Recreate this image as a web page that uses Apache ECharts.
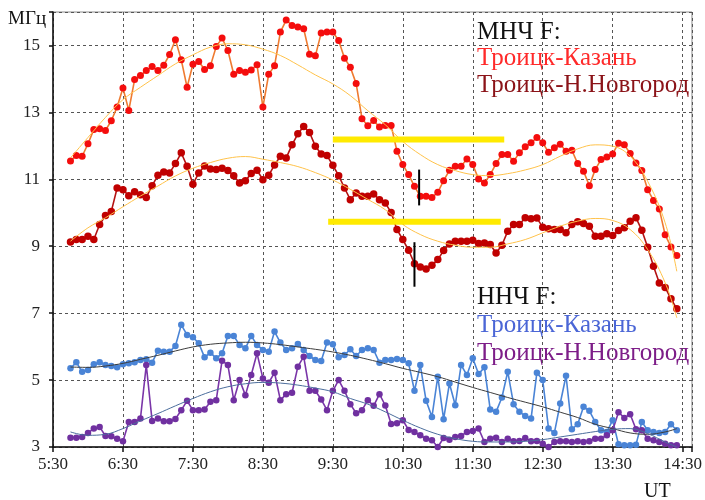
<!DOCTYPE html>
<html><head><meta charset="utf-8">
<script src="https://cdn.jsdelivr.net/npm/echarts@6/dist/echarts.min.js"></script>
<style>html,body{margin:0;padding:0;background:#fff}#c{width:705px;height:500px}</style>
</head><body><div id="c"></div>
<script>
// ---- tick labels ----
const xTickLabels = ['5:30','6:30','7:30','8:30','9:30','10:30','11:30','12:30','13:30','14:30'];
const yTickValues = [3,5,7,9,11,13,15];

// ---- sampled series (every 5 min starting 5:45) ----
const sampleStart = '5:45';
const sampleStepMin = 5;
const mnchKazan = [11.55,11.71,11.69,12.06,12.49,12.51,12.46,12.75,13.16,13.73,
  13.06,13.98,14.10,14.25,14.37,14.25,14.41,14.73,15.17,14.57,
  13.75,14.44,14.52,14.28,14.39,14.97,15.22,14.85,14.14,14.25,
  14.20,14.27,14.42,13.16,14.14,14.39,15.40,15.76,15.60,15.55,
  15.50,14.74,14.69,15.37,15.40,15.40,15.15,14.62,14.35,13.86,
  12.81,12.60,12.76,12.56,12.61,12.61,11.84,11.44,11.14,10.79,
  10.49,10.49,10.46,10.61,10.96,11.27,11.39,11.39,11.61,11.44,
  11.01,10.89,11.14,11.47,11.74,11.74,11.54,11.79,11.97,12.09,
  12.25,12.09,11.81,11.94,12.05,11.84,11.87,11.47,11.24,10.81,
  11.29,11.59,11.67,11.76,12.08,12.03,11.77,11.49,11.26,10.69,
  10.37,10.11,9.34,8.98,8.72];
const mnchNovgorod = [9.13,9.20,9.20,9.30,9.20,9.65,9.92,10.04,10.74,10.69,
  10.51,10.63,10.54,10.46,10.81,11.12,11.22,11.19,11.47,11.79,
  11.39,10.85,11.19,11.40,11.31,11.29,11.33,11.26,11.11,10.89,
  10.96,11.17,11.27,10.99,11.12,11.43,11.69,11.64,12.03,12.36,
  12.58,12.40,11.99,11.76,11.71,11.42,11.11,10.74,10.39,10.59,
  10.49,10.49,10.56,10.39,10.29,10.01,9.50,9.20,8.88,8.48,
  8.38,8.32,8.43,8.60,8.87,9.07,9.15,9.15,9.15,9.18,
  9.08,9.10,9.05,8.80,9.03,9.45,9.65,9.65,9.85,9.82,
  9.84,9.57,9.52,9.50,9.50,9.40,9.65,9.73,9.68,9.60,
  9.30,9.30,9.37,9.32,9.47,9.55,9.75,9.85,9.48,8.97,
  8.40,7.90,7.77,7.43,7.13];
const nnchKazan = [5.35,5.53,5.25,5.30,5.47,5.53,5.45,5.42,5.38,5.47,
  5.50,5.53,5.60,5.62,5.52,5.88,5.85,5.85,6.02,6.65,
  6.35,6.28,6.10,5.68,5.82,5.65,5.80,6.32,6.32,6.05,
  5.95,6.32,6.05,5.90,5.85,6.45,6.12,5.90,5.95,6.08,
  5.90,5.72,5.60,5.57,6.12,6.07,5.68,5.75,5.92,5.72,
  5.90,5.95,5.90,5.52,5.60,5.60,5.63,5.60,5.50,4.68,
  5.45,4.38,3.90,5.10,3.83,4.90,4.25,5.45,5.15,5.65,
  5.18,5.38,4.12,4.05,4.48,5.25,4.28,4.05,3.93,3.85,
  5.22,5.00,3.55,3.42,4.30,5.13,3.53,3.68,4.20,4.08,
  3.75,3.50,3.45,3.80,3.08,3.05,3.05,3.07,3.75,3.50,
  3.45,3.42,3.45,3.68,3.50];
const nnchNovgorod = [3.28,3.28,3.30,3.42,3.55,3.60,3.33,3.32,3.25,3.17,
  3.75,3.75,3.85,5.45,3.78,3.85,3.77,3.77,3.84,4.10,
  4.38,4.10,4.10,4.12,4.35,4.40,5.58,5.45,4.40,5.00,
  4.55,5.15,5.80,5.05,4.92,5.22,4.40,4.58,4.62,5.40,
  5.70,4.68,4.68,4.42,4.10,4.68,5.00,4.68,4.28,4.01,
  4.10,4.40,4.23,4.58,4.24,3.69,3.71,3.80,3.51,3.45,
  3.35,3.25,3.20,3.00,3.27,3.22,3.30,3.33,3.45,3.48,
  3.55,3.15,3.25,3.28,3.15,3.25,3.17,3.18,3.27,3.17,
  3.18,3.10,3.00,3.15,3.17,3.17,3.15,3.17,3.15,3.17,
  3.25,3.25,3.35,3.50,4.04,3.87,3.98,3.53,3.50,3.25,
  3.20,3.15,3.10,3.05,3.05];

// ---- smooth trend curves ----
const trendTimes = ['5:45','6:00','6:15','6:30','6:45','7:00','7:15','7:30','7:45','8:00',
  '8:15','8:30','8:45','9:00','9:15','9:30','9:45','10:00','10:15','10:30',
  '10:45','11:00','11:15','11:30','11:45','12:00','12:15','12:30','12:45','13:00',
  '13:15','13:30','13:45','14:00','14:15','14:25'];
const trendMnchKazan = [11.64,12.25,12.85,13.38,13.75,14.10,14.45,14.72,14.95,15.05,
  15.02,14.89,14.70,14.42,14.12,13.85,13.50,13.05,12.63,12.13,
  11.74,11.44,11.26,11.14,11.11,11.17,11.28,11.44,11.69,11.91,
  12.03,11.99,11.69,10.94,9.70,8.25];
const trendMnchNovgorod = [9.15,9.55,9.85,10.18,10.50,10.80,11.10,11.33,11.50,11.63,
  11.68,11.60,11.50,11.38,11.20,10.98,10.70,10.40,10.09,9.65,
  9.35,9.15,9.03,8.97,8.97,9.07,9.20,9.40,9.60,9.75,
  9.83,9.77,9.50,8.90,7.91,6.86];
const trendNnchKazan = [5.39,5.38,5.42,5.50,5.62,5.74,5.87,5.99,6.07,6.11,
  6.13,6.11,6.06,5.99,5.92,5.84,5.74,5.62,5.49,5.35,
  5.23,5.10,4.94,4.78,4.63,4.48,4.34,4.20,4.04,3.88,
  3.68,3.55,3.42,3.38,3.45,3.55];
const trendNnchNovgorod = [3.45,3.35,3.38,3.55,3.78,4.00,4.23,4.45,4.65,4.80,
  4.89,4.93,4.91,4.85,4.76,4.65,4.45,4.28,4.05,3.80,
  3.57,3.38,3.25,3.17,3.15,3.15,3.17,3.22,3.30,3.38,
  3.46,3.53,3.55,3.40,3.15,3.00];

// ---- annotations: [from time, to time, MHz] and [time, MHz low, MHz high] ----
const yellowBandUpper = ['9:30','11:57',12.19];
const yellowBandLower = ['9:26','11:54',9.73];
const blackMarkUpper = ['10:44',10.22,11.29];
const blackMarkLower = ['10:40',7.79,9.12];

// ---- build ----
function toMin(s){const p=s.split(':').map(Number);return p[0]*60+p[1]-330;}
const t0 = toMin(sampleStart);
const pts = arr => arr.map((v,i)=>[t0+i*sampleStepMin, v]);
const tr = arr => arr.map((v,i)=>[toMin(trendTimes[i]), v]);
const band = b => [[toMin(b[0]), b[2]], [toMin(b[1]), b[2]]];
const mark = b => [[toMin(b[0]), b[1]], [toMin(b[0]), b[2]]];

const FONT = '"Liberation Serif","Times New Roman",serif';
function dataSeries(data, dot, line, size){
  return {type:'line', data:pts(data), symbol:'circle', symbolSize:size, showSymbol:true,
    itemStyle:{color:dot}, lineStyle:{color:line, width:1.6}, z:3, silent:true};
}
function trendSeries(data, color){
  return {type:'line', data:tr(data), symbol:'none', smooth:0.4,
    lineStyle:{color:color, width:1}, z:4, silent:true};
}
const chart = echarts.init(document.getElementById('c'), null, {renderer:'canvas'});
chart.setOption({
  animation:false,
  grid:{left:53, right:12, top:12, bottom:53, show:true, borderColor:'#8c8c8c', borderWidth:1, backgroundColor:'transparent'},
  xAxis:{type:'value', min:0, max:548, interval:60,
    axisLine:{show:true, onZero:false, lineStyle:{color:'#111', width:1.5}},
    axisTick:{show:true, length:5, lineStyle:{color:'#111', width:1.5}},
    axisLabel:{margin:9, fontFamily:FONT, fontSize:17, color:'#222',
      formatter:v => (v%60===0 ? xTickLabels[v/60] : '')},
    splitLine:{show:true, lineStyle:{color:'#555', type:[3,3], width:1}}},
  yAxis:{type:'value', min:3, max:16, interval:2,
    axisLine:{show:true, onZero:false, lineStyle:{color:'#111', width:1.5}},
    axisTick:{show:true, length:4, lineStyle:{color:'#111', width:1.5}},
    axisLabel:{margin:13, fontFamily:FONT, fontSize:17, color:'#222',
      formatter:v => (yTickValues.indexOf(v)>=0 ? String(v) : '')},
    splitLine:{show:true, lineStyle:{color:'#555', type:[3,3], width:1}}},
  series:[
    dataSeries(mnchKazan, '#f40d0d', '#ef7a30', 7),
    dataSeries(mnchNovgorod, '#c00000', '#b31212', 7.5),
    dataSeries(nnchKazan, '#4a84d6', '#4a84d6', 6.5),
    dataSeries(nnchNovgorod, '#7030a0', '#7a35a8', 6.5),
    trendSeries(trendMnchKazan, '#ffc24a'),
    trendSeries(trendMnchNovgorod, '#ffc24a'),
    trendSeries(trendNnchKazan, '#3c3c3c'),
    trendSeries(trendNnchNovgorod, '#4b6d9c'),
    {type:'line', data:band(yellowBandUpper), symbol:'none', lineStyle:{color:'#ffea00', width:6}, z:5, silent:true},
    {type:'line', data:band(yellowBandLower), symbol:'none', lineStyle:{color:'#ffea00', width:6}, z:5, silent:true},
    {type:'line', data:mark(blackMarkUpper), symbol:'none', lineStyle:{color:'#000', width:2}, z:6, silent:true},
    {type:'line', data:mark(blackMarkLower), symbol:'none', lineStyle:{color:'#000', width:2}, z:6, silent:true}
  ],
  graphic:[
    {type:'text', left:8, top:10, style:{text:'МГц', font:'19px '+FONT, fill:'#111'}},
    {type:'text', left:644, top:482, style:{text:'UT', font:'20px '+FONT, fill:'#111'}},
    {type:'text', left:477, top:20, style:{text:'МНЧ F:', font:'25px '+FONT, fill:'#111'}},
    {type:'text', left:477, top:46, style:{text:'Троицк-Казань', font:'25px '+FONT, fill:'#ff2a2a'}},
    {type:'text', left:477, top:73, style:{text:'Троицк-Н.Новгород', font:'25px '+FONT, fill:'#8b1318'}},
    {type:'text', left:477, top:285, style:{text:'ННЧ F:', font:'25px '+FONT, fill:'#111'}},
    {type:'text', left:477, top:313, style:{text:'Троицк-Казань', font:'25px '+FONT, fill:'#4b66d6'}},
    {type:'text', left:477, top:341, style:{text:'Троицк-Н.Новгород', font:'25px '+FONT, fill:'#7d1d88'}}
  ]
});
</script></body></html>
